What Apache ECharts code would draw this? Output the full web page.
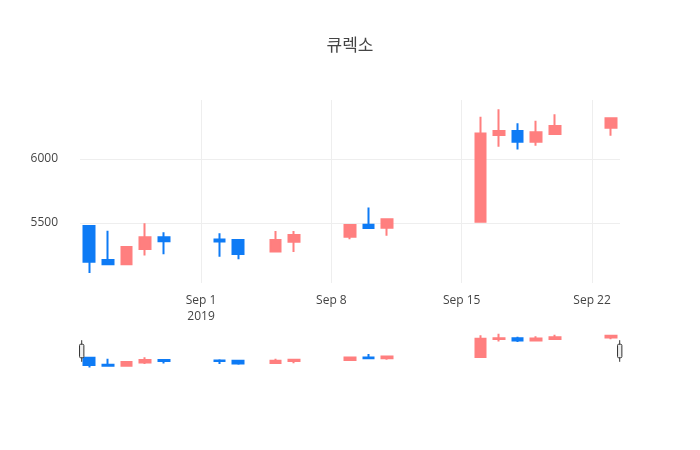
<!DOCTYPE html>
<html>
<head>
<meta charset="utf-8">
<script src="https://cdn.jsdelivr.net/npm/echarts@6/dist/echarts.min.js"></script>
<style>html,body{margin:0;padding:0;background:#fff}#main{width:700px;height:450px}</style>
</head>
<body>
<div id="main"></div>
<script>
var dates = ['2019-08-26','2019-08-27','2019-08-28','2019-08-29','2019-08-30','2019-08-31','2019-09-01',
  '2019-09-02','2019-09-03','2019-09-04','2019-09-05','2019-09-06','2019-09-07','2019-09-08',
  '2019-09-09','2019-09-10','2019-09-11','2019-09-12','2019-09-13','2019-09-14','2019-09-15',
  '2019-09-16','2019-09-17','2019-09-18','2019-09-19','2019-09-20','2019-09-21','2019-09-22','2019-09-23'];
var tickLabels = {'2019-09-01':'Sep 1\n2019','2019-09-08':'Sep 8','2019-09-15':'Sep 15','2019-09-22':'Sep 22'};
var yTicks = [5500, 6000];
// [open, close, low, high], null = no trading
var ohlc = [
  [5477,5198,5109,5477],[5211,5177,5177,5439],[5177,5312,5177,5312],[5297,5388,5245,5497],[5388,5358,5255,5427],null,null,
  [5370,5355,5237,5419],[5367,5258,5216,5367],null,[5277,5367,5277,5437],[5354,5406,5273,5437],null,null,
  [5393,5484,5373,5484],[5487,5461,5461,5620],[5463,5529,5401,5529],null,null,null,null,
  [5510,6200,5510,6330],[6188,6219,6096,6388],[6219,6135,6075,6279],[6135,6209,6104,6299],[6195,6258,6195,6349],null,null,
  [6245,6318,6182,6318]
];
var data = ohlc.map(function (d) { return d ? d : '-'; });
var up = '#ff7f7f', down = '#0e7bf5';
var style = {color: up, color0: down, borderColor: up, borderColor0: down, borderWidth: 2};

var gridLines = yTicks.map(function (v) { return {yAxis: v}; })
  .concat(Object.keys(tickLabels).map(function (d) { return {xAxis: d}; }));

var chart = echarts.init(document.getElementById('main'));
chart.setOption({
  animation: false,
  textStyle: {fontFamily: 'Open Sans'},
  title: {text: '큐렉소', left: 'center', top: 31, textStyle: {fontSize: 17, fontWeight: 'normal', color: '#444', fontFamily: 'Noto Sans CJK KR'}},
  grid: [
    {left: 80, right: 80, top: 100, height: 183},
    {left: 80, right: 80, top: 333, height: 36}
  ],
  xAxis: [
    {type: 'category', data: dates, gridIndex: 0,
     axisLine: {show: false}, axisTick: {show: false}, splitLine: {show: false},
     axisLabel: {interval: function (i, v) { return !!tickLabels[v]; }, formatter: function (v) { return tickLabels[v] || ''; }, color: '#444', fontSize: 12, margin: 10, lineHeight: 16}},
    {type: 'category', data: dates, gridIndex: 1, show: false}
  ],
  yAxis: [
    {gridIndex: 0, min: 5031, max: 6461, axisLine: {show: false}, axisTick: {show: false},
     axisLabel: {customValues: yTicks, formatter: function (v) { return String(v); }, color: '#444', fontSize: 12, margin: 22},
     splitLine: {show: false}},
    {gridIndex: 1, min: 5050, max: 6420, show: false}
  ],
  dataZoom: [{type: 'slider', xAxisIndex: [0, 1], start: 0, end: 100, filterMode: 'none', left: 80, right: 80, top: 333, height: 36,
    showDataShadow: false, showDetail: false, backgroundColor: 'rgba(0,0,0,0)', fillerColor: 'rgba(0,0,0,0)',
    borderColor: 'rgba(0,0,0,0)', handleSize: '60%', handleStyle: {color: '#eee', borderColor: '#333'},
    moveHandleSize: 0, brushSelect: false}],
  series: [
    {type: 'candlestick', data: data, xAxisIndex: 0, yAxisIndex: 0, barWidth: '60%', itemStyle: style, z: 3,
     markLine: {silent: true, symbol: 'none', label: {show: false}, z: 1, lineStyle: {color: '#eee', type: 'solid', width: 1}, data: gridLines}},
    {type: 'candlestick', data: data, xAxisIndex: 1, yAxisIndex: 1, barWidth: '60%', itemStyle: style}
  ]
});
</script>
</body>
</html>
